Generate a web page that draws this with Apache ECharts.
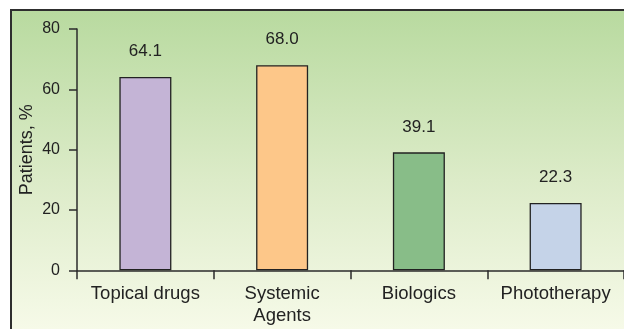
<!DOCTYPE html>
<html>
<head>
<meta charset="utf-8">
<script src="https://cdn.jsdelivr.net/npm/echarts@6/dist/echarts.min.js"></script>
<style>
  html, body { margin: 0; padding: 0; background: #ffffff; }
  #chart { width: 624px; height: 329px; }
</style>
</head>
<body>
<div id="chart"></div>
<script>
// Share of patients by treatment type
const categories = ['Topical drugs', 'Systemic\nAgents', 'Biologics', 'Phototherapy'];
const patientsPct = [64.1, 68.0, 39.1, 22.3];
const barColors = ['#c4b4d6', '#fdc789', '#88bd88', '#c5d3e8'];
const yTicks = { min: 0, max: 80, interval: 20 };

const FONT = '"Liberation Sans", Arial, Helvetica, sans-serif';
const INK = '#222222';

const chart = echarts.init(document.getElementById('chart'), null, { renderer: 'canvas' });

chart.setOption({
  animation: false,
  backgroundColor: '#ffffff',
  graphic: [{
    type: 'rect',
    z: -10,
    silent: true,
    shape: { x: 11, y: 10, width: 640, height: 340 },
    style: {
      fill: new echarts.graphic.LinearGradient(0, 0, 0, 1, [
        { offset: 0, color: '#b8da9f' },
        { offset: 0.5, color: '#dcebc8' },
        { offset: 1, color: '#fafced' }
      ]),
      stroke: '#2e2e2e',
      lineWidth: 2
    }
  }],
  grid: { left: 77, top: 29, width: 551, height: 241.3, containLabel: false },
  xAxis: {
    type: 'category',
    data: categories,
    boundaryGap: true,
    axisLine: { show: true, lineStyle: { color: '#2b2b2b', width: 1.5 } },
    axisTick: { show: true, interval: 0, inside: false, length: 9, lineStyle: { color: '#2b2b2b', width: 1.5 } },
    axisLabel: {
      interval: 0,
      hideOverlap: false,
      margin: 13,
      color: INK,
      fontFamily: FONT,
      fontSize: 18.5,
      lineHeight: 22
    },
    splitLine: { show: false }
  },
  yAxis: {
    type: 'value',
    min: yTicks.min,
    max: yTicks.max,
    interval: yTicks.interval,
    name: 'Patients, %',
    nameLocation: 'middle',
    nameGap: 41,
    nameMoveOverlap: false,
    nameTextStyle: { color: INK, fontFamily: FONT, fontSize: 18 },
    axisLine: { show: true, lineStyle: { color: '#2b2b2b', width: 1.5 } },
    axisTick: { show: true, inside: false, length: 8, lineStyle: { color: '#2b2b2b', width: 1.5 } },
    axisLabel: { margin: 17, color: INK, fontFamily: FONT, fontSize: 16 },
    splitLine: { show: false }
  },
  series: [{
    type: 'bar',
    data: patientsPct.map((v, i) => ({ value: v, itemStyle: { color: barColors[i] } })),
    barWidth: 52,
    itemStyle: { borderColor: '#222222', borderWidth: 1.3 },
    label: {
      show: true,
      position: 'top',
      distance: 17,
      color: INK,
      fontFamily: FONT,
      fontSize: 17,
      formatter: p => p.value.toFixed(1)
    }
  }]
});
</script>
</body>
</html>
